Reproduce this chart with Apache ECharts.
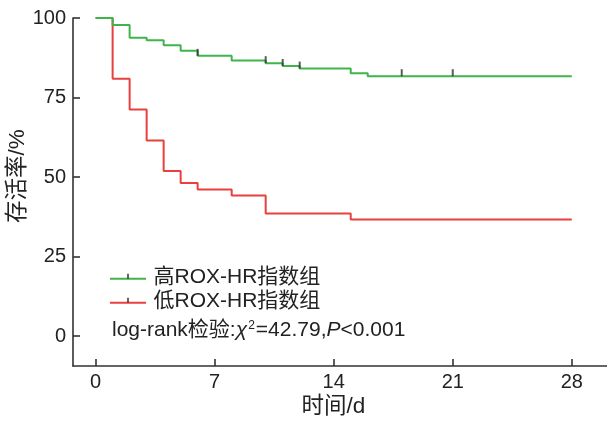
<!DOCTYPE html>
<html>
<head>
<meta charset="utf-8">
<script src="https://cdn.jsdelivr.net/npm/echarts@6/dist/echarts.min.js"></script>
<style>
html,body{margin:0;padding:0;background:#fff;}
#chart{width:607px;height:421px;}
</style>
</head>
<body>
<div id="chart"></div>
<script>
// ---- data ----
const xTicks = [0, 7, 14, 21, 28];
const yTicks = [0, 25, 50, 75, 100];

const highName = '高ROX-HR指数组';
const highTimes = [0, 1, 2, 3, 4, 5, 6, 8, 10, 11, 12, 15, 16, 28];
const highSurv  = [100, 97.8, 93.8, 93.0, 91.4, 89.7, 88.1, 86.6, 85.8, 84.9, 84.1, 82.6, 81.7, 81.7];
const highCensorTimes = [6, 10, 11, 12, 18, 21];
const highCensorSurv  = [88.1, 85.8, 84.9, 84.1, 81.7, 81.7];

const lowName = '低ROX-HR指数组';
const lowTimes = [0, 1, 2, 3, 4, 5, 6, 8, 10, 15, 28];
const lowSurv  = [100, 80.9, 71.2, 61.5, 51.9, 48.1, 46.1, 44.2, 38.5, 36.6, 36.6];

const xTitle = '时间/d';
const yTitle = '存活率/%';

// ---- chart ----
const FONT = "'Liberation Sans', Arial, 'Noto Sans CJK SC', sans-serif";
const GREEN = '#3db54b';
const RED = '#e8403f';
const AX = '#333333';
const TXT = '#222222';

const zip = (a, b) => a.map((v, i) => [v, b[i]]);

const chart = echarts.init(document.getElementById('chart'), null, {renderer: 'canvas'});

const axisCommon = {
  type: 'value',
  axisLine: {show: true, onZero: false, lineStyle: {color: AX, width: 1.6}},
  axisTick: {show: true, inside: true, length: 7, lineStyle: {color: AX, width: 1.6}},
  splitLine: {show: false},
  axisLabel: {color: TXT, fontSize: 20, fontFamily: FONT}
};

function legendEntry(y, color, text) {
  return [
    {type: 'line', shape: {x1: 110, y1: y, x2: 146, y2: y}, style: {stroke: color, lineWidth: 2}},
    {type: 'line', shape: {x1: 128, y1: y - 5, x2: 128, y2: y}, style: {stroke: AX, lineWidth: 1.5}},
    {type: 'text', x: 153.5, y: y - 1.5, style: {text: text, fill: TXT, font: '21px ' + FONT, textVerticalAlign: 'middle', textAlign: 'left'}}
  ];
}

const option = {
  animation: false,
  backgroundColor: '#ffffff',
  grid: {left: 73, right: 0, top: 18, bottom: 55, containLabel: false, outerBoundsMode: 'none'},
  xAxis: Object.assign({}, axisCommon, {
    min: -1.33, max: 30.07,
    axisTick: Object.assign({}, axisCommon.axisTick, {customValues: xTicks}),
    axisLabel: Object.assign({}, axisCommon.axisLabel, {customValues: xTicks, margin: 6})
  }),
  yAxis: Object.assign({}, axisCommon, {
    min: -9.43, max: 100,
    axisTick: Object.assign({}, axisCommon.axisTick, {customValues: yTicks}),
    axisLabel: Object.assign({}, axisCommon.axisLabel, {customValues: yTicks, margin: 7})
  }),
  series: [
    {
      name: lowName, type: 'line', step: 'end', data: zip(lowTimes, lowSurv),
      showSymbol: false, symbol: 'none', lineStyle: {color: RED, width: 2}, itemStyle: {color: RED}, z: 2
    },
    {
      name: highName, type: 'line', step: 'end', data: zip(highTimes, highSurv),
      showSymbol: false, symbol: 'none', lineStyle: {color: GREEN, width: 2}, itemStyle: {color: GREEN}, z: 3
    },
    {
      name: highName + ' censored', type: 'scatter', data: zip(highCensorTimes, highCensorSurv),
      symbol: 'rect', symbolSize: [2, 7], symbolOffset: [0, -3.5],
      itemStyle: {color: AX}, z: 4, silent: true
    }
  ],
  graphic: [].concat(
    legendEntry(278.7, GREEN, highName),
    legendEntry(302.7, RED, lowName),
    [
      {
        type: 'text', x: 112, y: 330,
        style: {
          text: '{n|log-rank检验:}{i|χ}{s|2}{n|=42.79,}{i|P}{n|<0.001}',
          textVerticalAlign: 'middle', textAlign: 'left',
          rich: {
            n: {fontSize: 21, fontFamily: FONT, fill: TXT, color: TXT},
            i: {fontSize: 21, fontFamily: FONT, fontStyle: 'italic', fill: TXT, color: TXT},
            s: {fontSize: 12, fontFamily: FONT, fill: TXT, color: TXT, verticalAlign: 'top', padding: [0, 1, 9, 1]}
          }
        }
      },
      {
        type: 'text', x: 333.3, y: 407,
        style: {text: xTitle, fill: TXT, font: '22.5px ' + FONT, textAlign: 'center', textVerticalAlign: 'middle'}
      },
      {
        type: 'text', x: 17.5, y: 176, rotation: Math.PI / 2,
        style: {text: yTitle, fill: TXT, font: '22.5px ' + FONT, textAlign: 'center', textVerticalAlign: 'middle'}
      }
    ]
  )
};

chart.setOption(option);
</script>
</body>
</html>
